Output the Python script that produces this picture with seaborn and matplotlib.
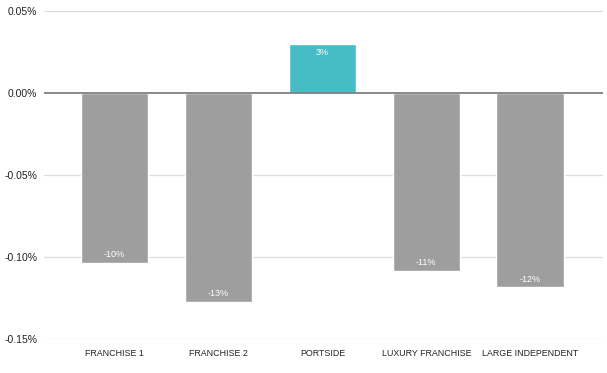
import matplotlib
matplotlib.use("Agg")
import matplotlib.pyplot as plt
import seaborn as sns
import pandas as pd
from matplotlib import font_manager
from matplotlib.ticker import FuncFormatter

categories = ["FRANCHISE 1", "FRANCHISE 2", "PORTSIDE", "LUXURY FRANCHISE", "LARGE INDEPENDENT"]
values = [-0.1035, -0.1272, 0.0299, -0.1083, -0.1185]
labels = ["-10%", "-13%", "3%", "-11%", "-12%"]
colors = ["#9e9e9e", "#9e9e9e", "#46bdc6", "#9e9e9e", "#9e9e9e"]
yticks = [-0.15, -0.10, -0.05, 0.00, 0.05]

sns.set_theme(style="white")
names = {f.name for f in font_manager.fontManager.ttflist}
narrow = "Liberation Sans Narrow" if "Liberation Sans Narrow" in names else None
plt.rcParams["font.family"] = ["Liberation Sans", "DejaVu Sans"]

df = pd.DataFrame({"cat": categories, "val": values})

fig = plt.figure(figsize=(6.07, 3.73), dpi=100)
ax = fig.add_axes([44 / 607, 34 / 373, 559 / 607, 328 / 373])

for y in yticks:
    if y != 0:
        ax.axhline(y, color="#dddddd", lw=0.9, zorder=0)

sns.barplot(data=df, x="cat", y="val", hue="cat", palette=colors, legend=False,
            width=0.65, saturation=1, ax=ax, zorder=2)
ax.axhline(0, color="#808080", lw=1.3, zorder=3)

for i, (v, lab) in enumerate(zip(values, labels)):
    off = -0.0055 if v > 0 else 0.005
    ax.text(i, v + off, lab, ha="center", va="center", color="white",
            fontsize=6.5, zorder=4)

ax.set_xlim(-0.678, 4.70)
ax.set_ylim(-0.15, 0.05)
ax.set_yticks(yticks)
ax.yaxis.set_major_formatter(FuncFormatter(lambda v, p: f"{v:.2f}%"))
ax.tick_params(axis="y", length=0, pad=5, labelsize=7.5, labelcolor="#222222")
ax.tick_params(axis="x", length=0, pad=7, labelsize=7.5 if narrow else 6.4,
               labelcolor="#222222")
if narrow:
    for t in ax.get_xticklabels():
        t.set_fontfamily([narrow, "DejaVu Sans"])
ax.set_xlabel("")
ax.set_ylabel("")
for s in ax.spines.values():
    s.set_visible(False)

fig.savefig("out.png", dpi=100)
